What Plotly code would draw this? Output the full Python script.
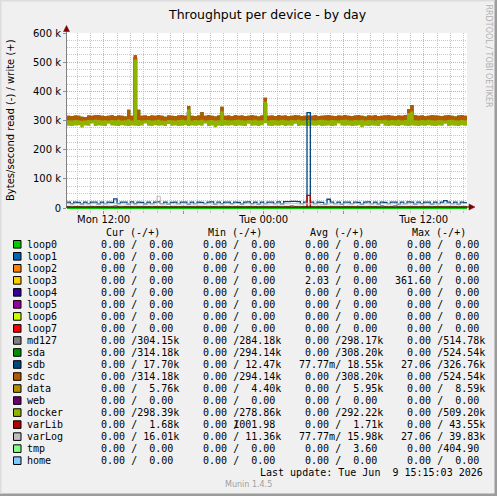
import plotly.graph_objects as go
import pandas as pd

# ------------------------------------------------------------------ data
# 15-minute consolidated write throughput, in k bytes/s (reads are ~0)
T_START = "2026-06-08 09:15"
T_END = "2026-06-09 15:15"

sdc_hi = [
    316, 315, 317, 316, 313, 312, 317, 316, 318, 318, 316, 315,
    316, 318, 315, 317, 316, 314, 337, 316, 524, 337, 316, 317,
    315, 317, 316, 318, 316, 313, 317, 316, 315, 317, 318, 316,
    350, 316, 315, 317, 329, 316, 318, 316, 314, 317, 347, 316,
    317, 315, 318, 316, 317, 315, 316, 318, 316, 314, 317, 378,
    316, 317, 315, 318, 316, 317, 315, 316, 318, 317, 315, 316,
    317, 316, 318, 315, 316, 317, 318, 316, 315, 317, 316, 318,
    316, 315, 317, 318, 316, 314, 317, 316, 318, 315, 316, 317,
    318, 316, 315, 317, 316, 318, 339, 353, 318, 316, 317, 315,
    316, 318, 317, 316, 315, 317, 318, 316, 314, 317, 318, 316,
]
sdc_lo = [
    297, 296, 298, 297, 296, 298, 297, 296, 298, 297, 296, 297,
    298, 297, 296, 297, 298, 296, 297, 298, 297, 296, 298, 297,
    296, 298, 297, 296, 297, 298, 296, 297, 298, 297, 296, 298,
    297, 296, 298, 297, 296, 297, 298, 296, 297, 298, 297, 296,
    298, 297, 296, 298, 297, 296, 297, 298, 296, 297, 298, 297,
    296, 297, 298, 296, 297, 298, 297, 296, 297, 298, 296, 297,
    298, 296, 297, 298, 296, 297, 298, 297, 296, 297, 298, 296,
    297, 298, 296, 297, 298, 296, 297, 298, 297, 296, 298, 297,
    296, 297, 298, 297, 296, 298, 297, 296, 298, 297, 296, 298,
    297, 296, 298, 297, 296, 298, 297, 296, 297, 298, 296, 297,
]
docker_hi = [
    301, 300, 302, 301, 299, 300, 302, 301, 303, 302, 300, 301,
    300, 302, 301, 303, 300, 301, 304, 300, 509, 302, 300, 301,
    302, 300, 301, 303, 300, 299, 302, 301, 300, 302, 303, 301,
    338, 300, 302, 301, 303, 300, 301, 302, 300, 301, 332, 302,
    301, 300, 302, 303, 301, 300, 302, 301, 303, 300, 301, 364,
    300, 302, 301, 300, 303, 301, 300, 302, 301, 303, 300, 301,
    302, 301, 300, 302, 303, 301, 300, 302, 301, 300, 302, 303,
    301, 300, 302, 301, 303, 300, 302, 301, 300, 302, 301, 303,
    300, 302, 301, 303, 300, 302, 326, 331, 301, 300, 302, 301,
    303, 301, 300, 302, 301, 300, 302, 303, 301, 300, 302, 301,
]
docker_lo = [
    282, 281, 283, 284, 276, 283, 282, 290, 281, 283, 282, 281,
    289, 283, 282, 281, 284, 282, 281, 283, 282, 281, 283, 290,
    282, 281, 284, 282, 283, 281, 288, 282, 283, 281, 282, 284,
    281, 283, 282, 284, 282, 290, 281, 283, 277, 282, 281, 283,
    282, 284, 281, 283, 282, 281, 289, 282, 283, 281, 284, 291,
    282, 281, 283, 282, 284, 281, 283, 282, 289, 281, 283, 282,
    281, 283, 282, 284, 281, 282, 283, 281, 282, 290, 283, 282,
    283, 281, 282, 284, 277, 282, 281, 283, 282, 281, 289, 282,
    281, 283, 282, 281, 284, 282, 281, 283, 282, 281, 283, 282,
    284, 282, 281, 283, 282, 289, 281, 283, 282, 281, 284, 282,
]
md127 = [
    298, 297, 299, 298, 296, 298, 297, 299, 298, 297, 299, 298,
    297, 299, 298, 296, 298, 297, 306, 298, 515, 305, 298, 297,
    298, 297, 299, 298, 297, 296, 299, 298, 297, 299, 298, 297,
    330, 298, 297, 299, 298, 297, 299, 298, 296, 298, 325, 297,
    299, 298, 297, 298, 299, 297, 298, 296, 299, 298, 297, 360,
    298, 299, 297, 298, 296, 299, 298, 297, 299, 298, 297, 298,
    297, 299, 298, 297, 299, 298, 296, 298, 297, 299, 298, 297,
    298, 297, 299, 298, 296, 298, 297, 299, 298, 297, 299, 298,
    297, 298, 299, 297, 298, 296, 320, 328, 298, 297, 299, 298,
    299, 297, 298, 299, 297, 298, 296, 299, 298, 297, 298, 304,
]
sdb = [
    20, 15, 20, 19, 14, 20, 15, 20, 20, 14, 20, 15,
    20, 19, 31, 15, 20, 20, 14, 21, 15, 20, 19, 14,
    20, 15, 20, 21, 15, 20, 14, 19, 20, 15, 20, 20,
    14, 20, 15, 20, 19, 15, 20, 21, 14, 20, 15, 20,
    20, 15, 20, 19, 14, 20, 21, 15, 20, 14, 20, 15,
    20, 20, 15, 21, 14, 22, 22, 23, 23, 22, 15, 20,
    327, 20, 15, 20, 19, 14, 30, 20, 15, 20, 14, 20,
    20, 15, 20, 19, 14, 20, 21, 15, 20, 14, 20, 19,
    15, 20, 20, 14, 20, 15, 21, 20, 14, 20, 15, 20,
    20, 14, 20, 15, 20, 25, 20, 15, 20, 14, 20, 18,
]
varLog = [
    15, 14, 15, 16, 14, 15, 14, 15, 16, 14, 15, 15,
    14, 15, 16, 14, 15, 14, 15, 16, 14, 15, 15, 14,
    15, 16, 14, 40, 15, 14, 15, 16, 14, 15, 14, 15,
    16, 14, 15, 15, 14, 16, 15, 14, 15, 16, 14, 15,
    15, 14, 16, 15, 14, 15, 16, 14, 15, 15, 14, 16,
    14, 15, 15, 16, 14, 15, 14, 16, 15, 14, 15, 16,
    15, 14, 16, 15, 11.4, 15, 14, 16, 15, 14, 15, 16,
    14, 15, 16, 14, 15, 15, 14, 16, 15, 14, 15, 15,
    16, 14, 15, 15, 14, 16, 15, 14, 15, 16, 14, 15,
    15, 16, 14, 15, 15, 14, 16, 15, 14, 15, 15, 16,
]
varLib = [
    1.7, 1.6, 1.8, 1.7, 1.7, 1.6, 1.8, 1.7, 1.6, 1.7, 1.8, 1.7,
    1.6, 1.7, 1.8, 1.7, 1.6, 1.7, 1.7, 1.8, 1.6, 1.7, 1.7, 1.8,
    1.7, 1.6, 1.7, 1.8, 1.7, 1.7, 1.6, 1.8, 1.7, 1.6, 1.7, 1.7,
    1.8, 1.7, 1.6, 1.7, 1.7, 1.8, 1.6, 1.7, 1.7, 1.0, 1.8, 1.7,
    1.7, 1.6, 1.7, 1.8, 1.7, 1.6, 1.7, 1.7, 1.8, 1.6, 1.7, 1.7,
    1.6, 1.7, 1.8, 1.7, 1.6, 1.7, 1.7, 1.8, 1.7, 1.6, 1.7, 1.7,
    43.5, 1.7, 1.6, 1.7, 1.8, 1.7, 1.6, 1.7, 1.7, 1.8, 1.6, 1.7,
    1.7, 1.8, 1.6, 1.7, 1.7, 1.6, 1.8, 1.7, 1.7, 1.6, 1.7, 1.8,
    1.6, 1.7, 1.7, 1.8, 1.7, 1.6, 1.7, 1.7, 1.8, 1.6, 1.7, 1.7,
    1.7, 1.6, 1.8, 1.7, 1.7, 1.6, 1.7, 1.8, 1.7, 1.6, 1.7, 1.7,
]
data_vol = [
    5.9, 6.0, 5.8, 5.9, 6.1, 5.9, 5.8, 6.0, 5.9, 5.8, 6.0, 5.9,
    6.0, 5.9, 8.5, 5.8, 5.9, 6.0, 5.9, 5.8, 6.1, 5.9, 6.0, 5.8,
    5.9, 6.0, 5.8, 5.9, 6.0, 5.9, 4.4, 6.0, 5.9, 5.8, 6.0, 5.9,
    5.8, 6.0, 5.9, 6.1, 5.9, 5.8, 6.0, 5.9, 5.8, 6.0, 5.9, 6.0,
    5.9, 5.8, 6.0, 5.9, 6.0, 5.8, 5.9, 6.1, 5.9, 5.8, 6.0, 5.9,
    6.0, 5.9, 5.8, 6.0, 5.9, 6.0, 5.8, 8.6, 5.9, 6.0, 5.8, 5.9,
    5.9, 6.0, 5.8, 5.9, 6.1, 5.9, 5.8, 6.0, 5.9, 5.8, 6.0, 5.9,
    6.0, 5.9, 5.8, 6.0, 5.9, 6.0, 5.8, 5.9, 6.0, 5.9, 8.4, 5.9,
    5.8, 6.0, 8.5, 5.9, 6.0, 5.8, 5.9, 6.0, 5.9, 5.8, 6.0, 5.9,
    6.0, 5.9, 5.8, 6.0, 5.9, 6.0, 5.8, 5.9, 6.0, 5.9, 5.8, 5.8,
]
tmp = [0.0] * 50 + [0.4] + [0.0] * 69
zero_flat = [0.0] * 120   # loop0..loop7, web, home: 0.00 everywhere

# legend table
names = ["loop0", "loop1", "loop2", "loop3", "loop4", "loop5", "loop6", "loop7",
         "md127", "sda", "sdb", "sdc", "data", "web", "docker", "varLib",
         "varLog", "tmp", "home"]
colors = ["#00CC00", "#0066B3", "#FF8000", "#FFCC00", "#330099", "#990099",
          "#CCFF00", "#FF0000", "#808080", "#008F00", "#00487D", "#B35A00",
          "#B38F00", "#6B006B", "#8FB300", "#B30000", "#BEBEBE", "#80FF80",
          "#80C9FF"]
Z = ("0.00", "0.00")
cur_vals = [Z] * 8 + [("0.00", "304.15k"), ("0.00", "314.18k"), ("0.00", "17.70k"),
                      ("0.00", "314.18k"), ("0.00", "5.76k"), Z, ("0.00", "298.39k"),
                      ("0.00", "1.68k"), ("0.00", "16.01k"), Z, Z]
min_vals = [Z] * 8 + [("0.00", "284.18k"), ("0.00", "294.14k"), ("0.00", "12.47k"),
                      ("0.00", "294.14k"), ("0.00", "4.40k"), Z, ("0.00", "278.86k"),
                      ("0.00", "1001.98"), ("0.00", "11.36k"), Z, Z]
avg_vals = [Z, Z, Z, ("2.03", "0.00"), Z, Z, Z, Z,
            ("0.00", "298.17k"), ("0.00", "308.20k"), ("77.77m", "18.55k"),
            ("0.00", "308.20k"), ("0.00", "5.95k"), Z, ("0.00", "292.22k"),
            ("0.00", "1.71k"), ("77.77m", "15.98k"), ("0.00", "3.60"), Z]
max_vals = [Z, Z, Z, ("361.60", "0.00"), Z, Z, Z, Z,
            ("0.00", "514.78k"), ("0.00", "524.54k"), ("27.06", "326.76k"),
            ("0.00", "524.54k"), ("0.00", "8.59k"), Z, ("0.00", "509.20k"),
            ("0.00", "43.55k"), ("27.06", "39.83k"), ("0.00", "404.90"), Z]
col_headers = ["Cur (-/+)", "Min (-/+)", "Avg (-/+)", "Max (-/+)"]
y_tickvals = [0, 100000, 200000, 300000, 400000, 500000, 600000]
y_ticktext = ["0", "100 k", "200 k", "300 k", "400 k", "500 k", "600 k"]
x_tickvals = ["2026-06-08 12:00", "2026-06-08 18:00", "2026-06-09 00:00",
              "2026-06-09 06:00", "2026-06-09 12:00"]
x_ticktext = ["Mon 12:00", "", "Tue 00:00", "", "Tue 12:00"]
title = "Throughput per device - by day"
y_title = "Bytes/second read (-) / write (+)"
last_update = "Last update: Tue Jun  9 15:15:03 2026"

# ------------------------------------------------------------------ layout geometry
W, H = 497, 496
PL, PR, PT, PB = 67, 467, 33, 210          # plot area in pixels
Y_MAX = 600000
Y_MIN = -2 * Y_MAX / 175                   # value 0 sits at pixel 208


def px(x):
    return (x - PL) / (PR - PL)


def py(y):
    return (PB - y) / (PB - PT)


times = list(pd.date_range(T_START, T_END, freq="15min"))


def stepy(vals):
    v = [a * 1000 for a in vals]
    return v + [v[-1]]


fig = go.Figure()

# zero series (all 0.00)
for nm, colr in zip(names, colors):
    if nm in ("loop1", "loop2", "loop3", "loop4", "loop5", "loop6", "loop7", "web", "home"):
        fig.add_trace(go.Scatter(x=times, y=stepy(zero_flat), mode="lines",
                                 line=dict(color=colr, width=1, shape="hv")))
fig.add_trace(go.Scatter(x=times, y=stepy(tmp), mode="lines",
                         line=dict(color="#80FF80", width=1, shape="hv")))

fig.add_trace(go.Scatter(x=times, y=stepy(md127), mode="lines",
                         line=dict(color="#808080", width=1, shape="hv")))


def band(lo, hi, colr):
    fig.add_trace(go.Scatter(x=times, y=stepy(lo), mode="lines",
                             line=dict(width=0, shape="hv", color=colr)))
    fig.add_trace(go.Scatter(x=times, y=stepy(hi), mode="lines", fill="tonexty",
                             fillcolor=colr, line=dict(width=0, shape="hv", color=colr)))


band(sdc_lo, sdc_hi, "#008F00")   # sda: identical to sdc per legend
band(sdc_lo, sdc_hi, "#B35A00")   # sdc
band(docker_lo, docker_hi, "#8FB300")

for vals, colr, wd in [(sdb, "#00487D", 1.3), (data_vol, "#B38F00", 1),
                       (varLib, "#B30000", 1.3), (varLog, "#BEBEBE", 1)]:
    fig.add_trace(go.Scatter(x=times, y=stepy(vals), mode="lines",
                             line=dict(color=colr, width=wd, shape="hv")))

fig.add_trace(go.Scatter(x=times, y=stepy(zero_flat), mode="lines",
                         line=dict(color="#00CC00", width=2, shape="hv")))

MAJOR = "#F29A9A"
MINOR = "#C8C8C8"
fig.update_layout(
    width=W, height=H, autosize=False, showlegend=False,
    margin=dict(l=PL, r=W - PR, t=PT, b=H - PB, pad=0),
    paper_bgcolor="#F0F0F0", plot_bgcolor="#F0F0F0",
    hovermode=False,
    xaxis=dict(type="date", range=[T_START, T_END], tickmode="array",
               tickvals=x_tickvals, ticktext=x_ticktext,
               showgrid=True, gridcolor=MAJOR, griddash="1px,1px", gridwidth=1,
               ticks="outside", ticklen=3, tickcolor="#E07070",
               ticklabelstandoff=-3,
               minor=dict(dtick=3600000, tick0="2026-06-08 00:00", showgrid=True,
                          gridcolor=MINOR, griddash="1px,1px", gridwidth=1,
                          ticks="outside", ticklen=2, tickcolor="#C0C0C0"),
               showline=False, zeroline=False,
               tickfont=dict(family="DejaVu Sans", size=10, color="black")),
    yaxis=dict(range=[Y_MIN, Y_MAX], tickmode="array",
               tickvals=y_tickvals, ticktext=y_ticktext,
               showgrid=True, gridcolor=MAJOR, griddash="1px,1px", gridwidth=1,
               ticks="outside", ticklen=3, tickcolor="#909090",
               minor=dict(dtick=25000, tick0=0, showgrid=True,
                          gridcolor=MINOR, griddash="1px,1px", gridwidth=1),
               showline=False, zeroline=False,
               tickfont=dict(family="DejaVu Sans", size=10, color="black")),
)

shapes = []
# white canvas
shapes.append(dict(type="rect", xref="paper", yref="y", x0=0, x1=1, y0=0, y1=Y_MAX,
                   fillcolor="white", line=dict(width=0), layer="below"))
# y axis line + arrow
shapes.append(dict(type="line", xref="paper", yref="paper", x0=px(66.5), x1=px(66.5),
                   y0=py(208), y1=py(29), line=dict(color="#808080", width=1)))
shapes.append(dict(type="path", xref="paper", yref="paper",
                   path=f"M {px(63.5)} {py(31.5)} L {px(69.5)} {py(31.5)} L {px(66.5)} {py(25.5)} Z",
                   fillcolor="#7F0000", line=dict(color="#7F0000", width=0.5)))
# x axis line + arrow
shapes.append(dict(type="line", xref="paper", yref="paper", x0=px(66.5), x1=px(471),
                   y0=py(207), y1=py(207), line=dict(color="black", width=1)))
shapes.append(dict(type="path", xref="paper", yref="paper",
                   path=f"M {px(469)} {py(204)} L {px(469)} {py(210)} L {px(475)} {py(207)} Z",
                   fillcolor="#7F0000", line=dict(color="#7F0000", width=0.5)))
# image border shading
shapes.append(dict(type="rect", xref="paper", yref="paper", x0=px(0), x1=px(497),
                   y0=py(493.5), y1=py(496), fillcolor="#9C9C9C", line=dict(width=0)))
shapes.append(dict(type="rect", xref="paper", yref="paper", x0=px(494.5), x1=px(497),
                   y0=py(0), y1=py(496), fillcolor="#9C9C9C", line=dict(width=0)))
shapes.append(dict(type="rect", xref="paper", yref="paper", x0=px(0), x1=px(494.5),
                   y0=py(0), y1=py(1.5), fillcolor="#DCDCDC", line=dict(width=0)))
shapes.append(dict(type="rect", xref="paper", yref="paper", x0=px(0), x1=px(1.5),
                   y0=py(0), y1=py(493.5), fillcolor="#DCDCDC", line=dict(width=0)))

ann = []
ann.append(dict(text=title, x=px(267), y=py(14), xref="paper", yref="paper",
                showarrow=False, xanchor="center", yanchor="middle",
                font=dict(family="DejaVu Sans", size=12.5, color="black")))
ann.append(dict(text=y_title, x=px(10.5), y=py(120.5), xref="paper", yref="paper",
                showarrow=False, textangle=-90, xanchor="center", yanchor="middle",
                font=dict(family="DejaVu Sans", size=10, color="black")))
ann.append(dict(text="RRDTOOL / TOBI OETIKER", x=px(488.5), y=py(56), xref="paper",
                yref="paper", showarrow=False, textangle=90, xanchor="center",
                yanchor="middle", font=dict(family="DejaVu Sans", size=8, color="#B0B0B0")))

MONO = dict(family="DejaVu Sans Mono", size=10, color="black")
NB = "\u00a0"
COL_X = [87.5, 189.7, 291.9, 394.1]
ROW0, ROWH = 244.3, 12.02


def half(s):
    if s[-1] in "km":
        return s[:-1], s[-1]
    return s, " "


def add_text(t, x, y, anchor="left", font=MONO):
    ann.append(dict(text=t.replace(" ", NB), x=px(x), y=py(y), xref="paper",
                    yref="paper", showarrow=False, xanchor=anchor, yanchor="middle",
                    font=font, borderpad=0))


for j, h in enumerate(col_headers):
    add_text(h, COL_X[j] + 45, 232.3, anchor="center")

for i, nm in enumerate(names):
    yy = ROW0 + ROWH * i
    shapes.append(dict(type="rect", xref="paper", yref="paper",
                       x0=px(13.5), x1=px(21), y0=py(yy - 3.8), y1=py(yy + 3.8),
                       fillcolor=colors[i], line=dict(color="black", width=1)))
    add_text(nm, 26, yy)
    for j, vals in enumerate([cur_vals, min_vals, avg_vals, max_vals]):
        rd, wr = vals[i]
        rn, ru = half(rd)
        wn, wu = half(wr)
        left = rn.rjust(6) + ru + "/"
        if len(wn) > 6:          # overlong value overlaps the slash
            add_text(left + wn[1:] + wu, COL_X[j], yy)
            add_text(" " * 7 + wn[0], COL_X[j], yy)
        else:
            add_text(left + wn.rjust(6) + wu, COL_X[j], yy)

add_text(last_update, 484, 472.3, anchor="right")
add_text("Munin 1.4.5", 248.5, 484.5, anchor="center",
         font=dict(family="DejaVu Sans", size=8, color="#A0A0A0"))

fig.update_layout(shapes=shapes, annotations=ann)
fig.write_html("out.html")
